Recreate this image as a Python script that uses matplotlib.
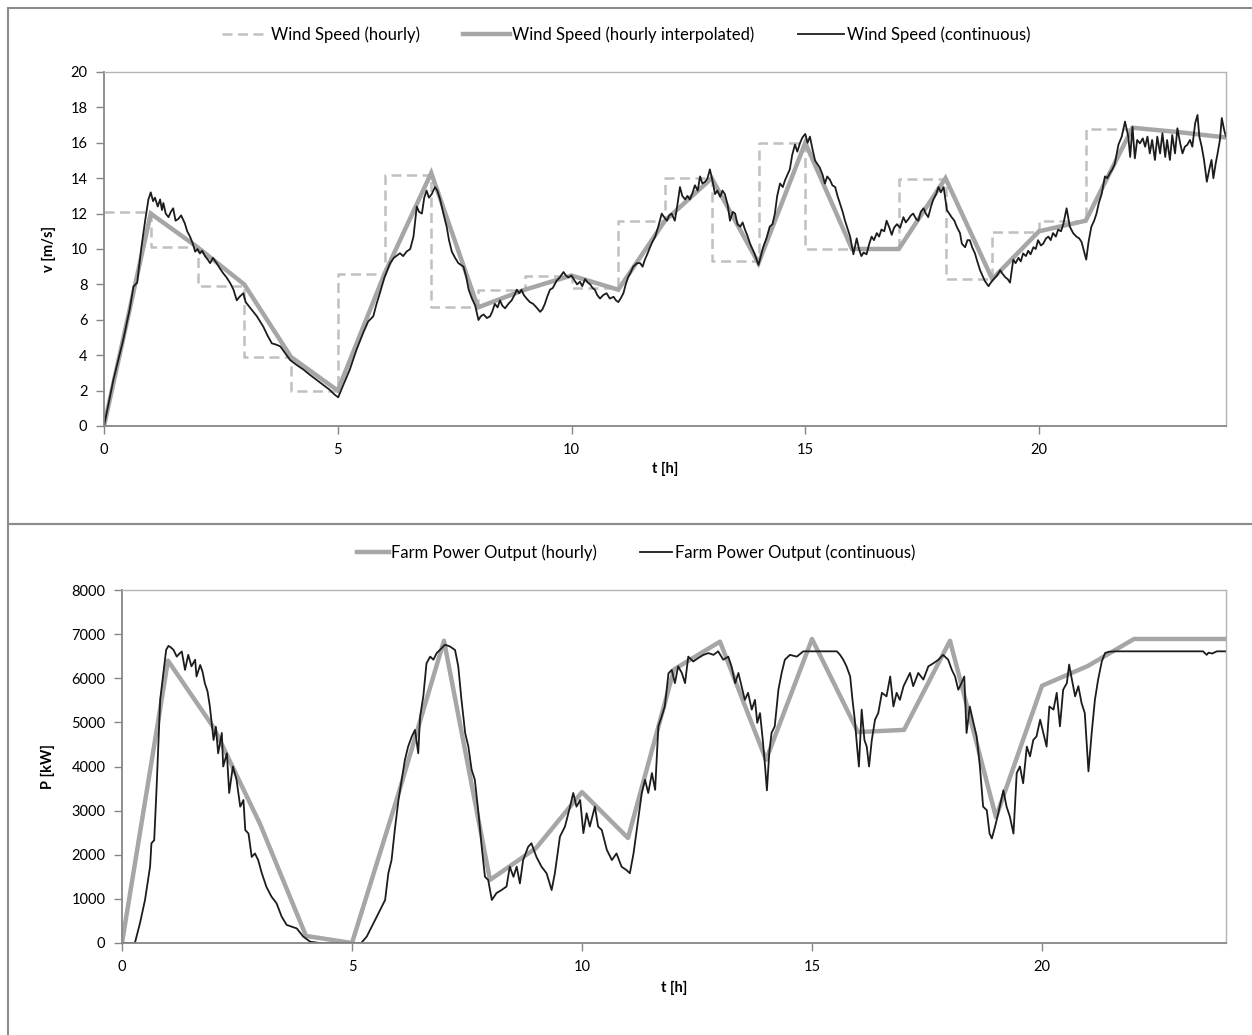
import matplotlib
matplotlib.use("Agg")
import matplotlib.pyplot as plt
from matplotlib.patches import Rectangle

plt.rcParams['font.family'] = ['Lato', 'DejaVu Sans']

# ---------------- data ----------------
hours = list(range(25))
wind_interp = [0, 12.0, 10.1, 8.0, 3.9, 2.0, 8.6, 14.3, 6.7, 7.7, 8.5, 7.7, 11.6,
               14.0, 9.2, 16.0, 10.0, 10.0, 14.0, 8.3, 11.0, 11.6, 16.85, 16.6, 16.3]
# hourly step (value for hour h+1 held over [h, h+1])
step_hours = list(range(23))
wind_hourly = [12.1, 10.1, 7.9, 3.9, 2.0, 8.6, 14.2, 6.7, 7.7, 8.5, 7.8, 11.6,
               14.0, 9.3, 16.0, 10.0, 10.0, 13.95, 8.3, 10.96, 11.6, 16.8, 16.8]

power_hourly = [0, 6400, 4870, 2700, 160, 0, 3350, 6850, 1430, 2150, 3420, 2380,
                6200, 6830, 4150, 6890, 4780, 4830, 6850, 2850, 5830, 6280, 6890, 6890, 6890]

wind_cont_t = [0, 0.2, 0.41, 0.55, 0.63, 0.71, 0.8, 0.88, 0.95, 1.0, 1.05, 1.09, 1.15, 1.2, 1.24, 1.27,
               1.32, 1.38, 1.43, 1.48, 1.53, 1.59, 1.65, 1.73, 1.78, 1.84, 1.9, 1.95, 2.0, 2.05, 2.1,
               2.16, 2.22, 2.27, 2.33, 2.41, 2.48, 2.55, 2.62, 2.7, 2.77, 2.84, 2.9, 2.98, 3.03, 3.09,
               3.18, 3.27, 3.34, 3.41, 3.5, 3.59, 3.68, 3.77, 3.88, 3.98, 4.12, 4.26, 4.4, 4.55, 4.7,
               4.83, 4.92, 5.01, 5.1, 5.26, 5.4, 5.55, 5.65, 5.76, 5.83, 5.9, 6.0, 6.12, 6.2, 6.33,
               6.4, 6.47, 6.55, 6.62, 6.69, 6.74, 6.8, 6.85, 6.9, 6.95, 7.01, 7.08, 7.13, 7.19, 7.26,
               7.33, 7.38, 7.44, 7.51, 7.58, 7.69, 7.75, 7.8, 7.87, 7.94, 8.01, 8.06, 8.12, 8.19,
               8.26, 8.31, 8.36, 8.42, 8.47, 8.52, 8.58, 8.65, 8.72, 8.78, 8.83, 8.88, 8.93, 8.98,
               9.04, 9.11, 9.18, 9.25, 9.33, 9.38, 9.43, 9.48, 9.54, 9.6, 9.68, 9.75, 9.83, 9.88,
               9.93, 10.0, 10.07, 10.12, 10.18, 10.23, 10.29, 10.35, 10.4, 10.45, 10.5, 10.55, 10.61,
               10.68, 10.75, 10.82, 10.9, 10.95, 11.0, 11.05, 11.11, 11.16, 11.21, 11.27, 11.32,
               11.4, 11.47, 11.52, 11.57, 11.62, 11.68, 11.73, 11.79, 11.86, 11.93, 11.98, 12.04,
               12.09, 12.14, 12.21, 12.26, 12.32, 12.37, 12.43, 12.48, 12.53, 12.58, 12.64, 12.7,
               12.75, 12.8, 12.86, 12.91, 12.96, 13.02, 13.07, 13.12, 13.18, 13.23, 13.28, 13.34,
               13.39, 13.45, 13.5, 13.55, 13.61, 13.66, 13.71, 13.77, 13.82, 13.87, 13.92, 13.96,
               14.0, 14.05, 14.1, 14.17, 14.24, 14.3, 14.35, 14.4, 14.46, 14.52, 14.57, 14.62, 14.67,
               14.72, 14.78, 14.83, 14.89, 14.94, 15.0, 15.05, 15.1, 15.15, 15.21, 15.26, 15.31,
               15.37, 15.42, 15.47, 15.53, 15.58, 15.64, 15.69, 15.74, 15.8, 15.85, 15.9, 15.96,
               16.03, 16.07, 16.1, 16.15, 16.2, 16.25, 16.31, 16.37, 16.42, 16.47, 16.53, 16.58,
               16.63, 16.69, 16.74, 16.8, 16.85, 16.9, 16.96, 17.03, 17.1, 17.15, 17.21, 17.26,
               17.31, 17.37, 17.42, 17.47, 17.53, 17.58, 17.63, 17.69, 17.74, 17.8, 17.85, 17.9,
               17.96, 18.03, 18.08, 18.13, 18.19, 18.24, 18.31, 18.35, 18.42, 18.47, 18.52, 18.57,
               18.63, 18.68, 18.74, 18.79, 18.84, 18.92, 18.97, 19.03, 19.1, 19.17, 19.22, 19.28,
               19.33, 19.38, 19.45, 19.5, 19.56, 19.61, 19.66, 19.72, 19.77, 19.82, 19.88, 19.93,
               19.98, 20.04, 20.09, 20.15, 20.2, 20.25, 20.3, 20.36, 20.41, 20.47, 20.52, 20.59,
               20.66, 20.73, 20.8, 20.86, 20.91, 20.96, 21.01, 21.06, 21.12, 21.18, 21.23, 21.28,
               21.34, 21.41, 21.46, 21.52, 21.57, 21.62, 21.7, 21.77, 21.84, 21.91, 21.95, 22.0,
               22.05, 22.1, 22.16, 22.22, 22.27, 22.32, 22.37, 22.42, 22.48, 22.53, 22.59, 22.64,
               22.7, 22.74, 22.8, 22.85, 22.91, 22.96, 23.02, 23.07, 23.12, 23.17, 23.23, 23.28,
               23.34, 23.39, 23.43, 23.48, 23.53, 23.59, 23.64, 23.69, 23.73, 23.78, 23.82, 23.87,
               23.91, 23.96, 24.0]
wind_cont_v = [0, 2.6, 4.86, 6.6, 7.87, 8.1, 10.1, 11.6, 12.8, 13.2, 12.7, 12.9, 12.4, 12.8, 12.2, 12.6,
               12.0, 11.8, 12.1, 12.3, 11.6, 11.7, 11.9, 11.44, 11.0, 10.7, 10.3, 9.85, 10.0, 9.75, 9.9,
               9.6, 9.4, 9.2, 9.5, 9.2, 8.9, 8.63, 8.4, 8.07, 7.7, 7.1, 7.3, 7.5, 7.0, 6.8,
               6.5, 6.2, 5.9, 5.6, 5.1, 4.67, 4.6, 4.5, 4.1, 3.73, 3.45, 3.2, 2.9, 2.6, 2.3,
               2.04, 1.8, 1.62, 2.2, 3.2, 4.3, 5.3, 5.9, 6.2, 6.9, 7.5, 8.4, 9.2, 9.5, 9.76,
               9.6, 9.85, 10.0, 10.7, 12.4, 12.1, 12.0, 12.9, 13.3, 12.9, 13.1, 13.5, 13.3, 12.8, 12.0,
               11.26, 10.5, 9.85, 9.5, 9.2, 9.0, 8.4, 7.7, 7.2, 6.8, 5.99, 6.2, 6.3, 6.1,
               6.2, 6.5, 6.9, 6.7, 7.1, 6.8, 6.65, 6.9, 7.1, 7.4, 7.7, 7.5, 7.7, 7.4,
               7.2, 7.0, 6.9, 6.7, 6.45, 6.6, 6.9, 7.3, 7.7, 7.8, 8.2, 8.4, 8.7, 8.5,
               8.4, 8.5, 8.2, 8.0, 8.15, 7.9, 8.3, 8.1, 8.0, 7.8, 7.7, 7.4, 7.2,
               7.4, 7.5, 7.2, 7.3, 7.1, 7.0, 7.2, 7.5, 8.0, 8.4, 8.7, 9.0,
               9.2, 9.2, 9.0, 9.4, 9.7, 10.1, 10.4, 10.7, 11.3, 12.0, 11.8, 11.6,
               11.9, 12.0, 11.6, 12.4, 13.5, 13.0, 12.8, 13.0, 12.8, 13.1, 13.6, 13.3,
               14.1, 13.7, 13.8, 14.0, 14.5, 13.8, 13.1, 13.3, 12.95, 13.3, 13.1, 12.5,
               11.6, 12.1, 12.0, 11.4, 11.26, 11.5, 11.1, 10.7, 10.3, 10.0, 9.7, 9.4,
               9.1, 9.6, 10.1, 10.6, 11.26, 11.4, 12.0, 13.0, 13.7, 13.5, 13.9, 14.2, 14.5,
               15.3, 15.9, 15.5, 16.0, 16.3, 16.5, 16.0, 16.35, 15.7, 15.0, 14.8, 14.6,
               14.2, 13.7, 14.1, 13.9, 13.6, 13.5, 13.0, 12.6, 12.1, 11.6, 11.2, 10.7,
               9.7, 10.2, 10.6, 10.0, 9.6, 9.8, 9.7, 10.3, 10.7, 10.5, 10.9, 10.7,
               11.1, 11.0, 11.6, 11.2, 10.8, 11.2, 11.4, 11.2, 11.8, 11.5, 11.7, 11.9,
               12.0, 11.7, 11.6, 12.1, 12.3, 12.0, 11.8, 12.4, 12.8, 13.1, 13.5, 13.2,
               13.5, 12.2, 12.0, 11.8, 11.6, 11.26, 10.9, 10.3, 10.1, 10.5, 10.5, 10.1,
               9.75, 9.3, 8.8, 8.5, 8.2, 7.9, 8.1, 8.3, 8.5, 8.8, 8.6, 8.4,
               8.3, 8.1, 9.4, 9.2, 9.5, 9.3, 9.75, 9.6, 9.9, 9.7, 10.1, 10.0,
               10.5, 10.2, 10.3, 10.6, 10.7, 10.5, 10.9, 10.7, 11.1, 11.0, 11.4, 12.3,
               11.26, 10.9, 10.7, 10.6, 10.4, 9.9, 9.4, 10.4, 11.26, 11.6, 12.0, 12.6,
               13.1, 14.1, 14.0, 14.3, 14.5, 14.8, 15.9, 16.35, 17.2, 16.35, 15.2, 16.9,
               15.12, 16.16, 15.97, 16.25, 15.78, 16.35, 15.4, 16.16, 15.03, 16.35, 15.4, 16.54,
               15.2, 16.16, 15.03, 16.44, 15.4, 16.82, 15.97, 15.4, 15.78, 15.88, 16.16, 15.78,
               17.1, 17.57, 16.35, 15.78, 15.03, 13.8, 14.46, 15.03, 14.0, 14.84, 15.4, 16.16,
               17.4, 16.73, 16.35]

power_cont_t = [0, 0.28, 0.39, 0.5, 0.61, 0.64, 0.7, 0.75, 0.83, 0.9, 0.96, 1.01, 1.06, 1.12, 1.19,
                1.25, 1.3, 1.37, 1.44, 1.51, 1.59, 1.62, 1.7, 1.75, 1.8, 1.86, 1.91, 1.99, 2.04, 2.09,
                2.17, 2.2, 2.28, 2.33, 2.41, 2.49, 2.57, 2.64, 2.68, 2.75, 2.82, 2.89, 2.96, 3.04,
                3.14, 3.25, 3.36, 3.47, 3.58, 3.69, 3.8, 3.94, 4.09, 4.3, 5.2, 5.32, 5.43, 5.54,
                5.65, 5.72, 5.79, 5.86, 5.93, 6.01, 6.08, 6.15, 6.22, 6.3, 6.37, 6.44, 6.48, 6.55,
                6.62, 6.7, 6.77, 6.84, 6.91, 7.02, 7.13, 7.24, 7.31, 7.38, 7.46, 7.53, 7.6, 7.67,
                7.75, 7.82, 7.89, 7.96, 8.04, 8.14, 8.25, 8.36, 8.43, 8.51, 8.58, 8.65, 8.72, 8.83,
                8.9, 9.01, 9.12, 9.23, 9.34, 9.41, 9.52, 9.63, 9.74, 9.81, 9.88, 9.96, 10.03, 10.1,
                10.17, 10.28, 10.35, 10.43, 10.54, 10.65, 10.75, 10.86, 10.97, 11.04, 11.12, 11.22,
                11.3, 11.37, 11.44, 11.52, 11.59, 11.66, 11.73, 11.8, 11.88, 11.95, 12.02, 12.09,
                12.17, 12.24, 12.31, 12.42, 12.53, 12.64, 12.75, 12.86, 12.96, 13.07, 13.18, 13.25,
                13.33, 13.4, 13.47, 13.54, 13.61, 13.69, 13.76, 13.81, 13.87, 13.93, 13.98, 14.02,
                14.07, 14.12, 14.19, 14.27, 14.34, 14.41, 14.52, 14.67, 14.81, 15.2, 15.54, 15.61,
                15.68, 15.75, 15.83, 15.88, 15.93, 15.98, 16.02, 16.08, 16.14, 16.19, 16.24, 16.3,
                16.37, 16.44, 16.52, 16.62, 16.7, 16.77, 16.84, 16.91, 16.99, 17.06, 17.13, 17.2,
                17.31, 17.42, 17.53, 17.64, 17.75, 17.85, 17.96, 18.04, 18.11, 18.18, 18.25, 18.31,
                18.36, 18.43, 18.51, 18.58, 18.65, 18.72, 18.8, 18.86, 18.91, 18.98, 19.05, 19.16,
                19.23, 19.3, 19.38, 19.45, 19.52, 19.59, 19.67, 19.74, 19.81, 19.88, 19.96, 20.03,
                20.1, 20.16, 20.25, 20.32, 20.39, 20.46, 20.54, 20.59, 20.65, 20.72, 20.79, 20.86,
                20.93, 21.01, 21.08, 21.15, 21.22, 21.3, 21.37, 21.45, 21.6, 22.5, 23.5, 23.58,
                23.62, 23.7, 23.8, 24.0]
power_cont_p = [0, 0, 446, 975, 1730, 2260, 2330, 3470, 5510, 6115, 6644, 6734, 6700, 6644, 6490,
                6560, 6606, 6190, 6530, 6270, 6420, 6040, 6300, 6150, 5890, 5700, 5360, 4600, 4900, 4300,
                4760, 4000, 4300, 3400, 4000, 3700, 3090, 3240, 2560, 2480, 1950, 2030, 1880, 1580,
                1270, 1050, 900, 600, 410, 370, 330, 145, 30, 0, 0, 145, 370, 600,
                830, 975, 1580, 1880, 2560, 3240, 3700, 4150, 4450, 4680, 4830, 4300, 5130, 5590,
                6340, 6490, 6420, 6570, 6640, 6760, 6720, 6640, 6270, 5510, 4760, 4450, 3930, 3700,
                2940, 2180, 1500, 1430, 975, 1130, 1200, 1280, 1730, 1500, 1730, 1350, 1880, 2180,
                2260, 1950, 1730, 1580, 1200, 1580, 2410, 2640, 3090, 3400, 3090, 3240, 2490, 2940,
                2640, 3090, 2640, 2560, 2110, 1880, 2030, 1730, 1650, 1580, 2030, 2790,
                3400, 3700, 3400, 3850, 3470, 4910, 5130, 5360, 6110, 6190, 5890, 6270,
                6120, 5890, 6490, 6380, 6460, 6530, 6570, 6530, 6610, 6420, 6490, 6270,
                5890, 6120, 5820, 5510, 5670, 5290, 5510, 4990, 5210, 4600, 4000, 3460,
                4300, 4760, 4910, 5740, 6120, 6420, 6530, 6490, 6610, 6610, 6610, 6530,
                6420, 6270, 6040, 5510, 5060, 4450, 4000, 5290, 4600, 4450, 4000, 4600,
                5060, 5210, 5670, 5590, 6040, 5360, 5670, 5510, 5820, 5970, 6120, 5820,
                6120, 5970, 6270, 6340, 6420, 6530, 6420, 6190, 6040, 5740, 5890, 6040,
                4760, 5360, 4990, 4680, 4000, 3090, 3010, 2480, 2370, 2640, 2940, 3460,
                3090, 2870, 2480, 3850, 4000, 3620, 4450, 4230, 4600, 4680, 5060, 4760,
                4450, 5360, 5290, 5670, 4910, 5740, 5890, 6310, 5970, 5590, 5820, 5440,
                5210, 3890, 4760, 5510, 5970, 6380, 6570, 6600, 6610, 6610, 6610, 6530,
                6580, 6560, 6610, 6610]

# ---------------- figure ----------------
W, H = 1252, 1035
fig = plt.figure(figsize=(W / 100, H / 100), dpi=100)

frame_col = '#8c8c8c'
fig.add_artist(Rectangle((8 / W, 1 - 524 / H), 1.2, 516 / H, transform=fig.transFigure,
                         fill=False, ec=frame_col, lw=1.5))
fig.add_artist(Rectangle((8 / W, -0.1), 1.2, 0.1 + 1 - 524 / H, transform=fig.transFigure,
                         fill=False, ec=frame_col, lw=1.5))

c_dash = '#c0c0c0'
c_interp = '#a6a6a6'
c_cont = '#1c1c1c'
tick_fs = 10.5


def style_axes(ax):
    for s in ['top', 'right']:
        ax.spines[s].set_color('#b4b4b4')
        ax.spines[s].set_linewidth(1.0)
    for s in ['left', 'bottom']:
        ax.spines[s].set_color('#868686')
        ax.spines[s].set_linewidth(1.3)
    ax.tick_params(axis='both', direction='out', length=6, width=1, color='#868686',
                   labelsize=tick_fs, labelcolor='#000000')
    ax.tick_params(axis='x', pad=6)
    ax.tick_params(axis='y', pad=6)


# ---- top panel ----
ax1 = fig.add_axes([104 / W, 1 - 426 / H, (1226 - 104) / W, (426 - 72) / H])
ax1.step(step_hours, wind_hourly, where='post', color=c_dash, lw=1.8,
         dashes=(4, 2.2), label='Wind Speed (hourly)')
ax1.plot(hours, wind_interp, color=c_interp, lw=3.2, label='Wind Speed (hourly interpolated)',
         solid_joinstyle='miter')
ax1.plot(wind_cont_t, wind_cont_v, color=c_cont, lw=1.3, label='Wind Speed (continuous)')
ax1.set_xlim(0, 24)
ax1.set_ylim(0, 20)
ax1.set_xticks([0, 5, 10, 15, 20])
ax1.set_yticks(range(0, 21, 2))
style_axes(ax1)
ax1.set_xlabel('t [h]', fontweight='bold', fontsize=10.5, labelpad=4)
ax1.set_ylabel('v [m/s]', fontweight='bold', fontsize=10.5, labelpad=10)
fig.legend(handles=ax1.get_lines(), loc='center', bbox_to_anchor=(0.5, 1 - 35 / H),
           ncol=3, frameon=False, fontsize=12, handlelength=2.8, columnspacing=2.6,
           handletextpad=0.15)

# ---- bottom panel ----
ax2 = fig.add_axes([122 / W, 1 - 943 / H, (1226 - 122) / W, (943 - 590) / H])
ax2.plot(hours, power_hourly, color=c_interp, lw=3.2, label='Farm Power Output (hourly)')
ax2.plot(power_cont_t, power_cont_p, color=c_cont, lw=1.3, label='Farm Power Output (continuous)')
ax2.set_xlim(0, 24)
ax2.set_ylim(0, 8000)
ax2.set_xticks([0, 5, 10, 15, 20])
ax2.set_yticks(range(0, 8001, 1000))
style_axes(ax2)
ax2.set_xlabel('t [h]', fontweight='bold', fontsize=10.5, labelpad=5)
ax2.set_ylabel('P [kW]', fontweight='bold', fontsize=10.5, labelpad=12)
fig.legend(handles=ax2.get_lines(), loc='center', bbox_to_anchor=(0.508, 1 - 553 / H),
           ncol=2, frameon=False, fontsize=12, handlelength=1.9, columnspacing=2.6,
           handletextpad=0.15)

fig.savefig('out.png', dpi=100)
